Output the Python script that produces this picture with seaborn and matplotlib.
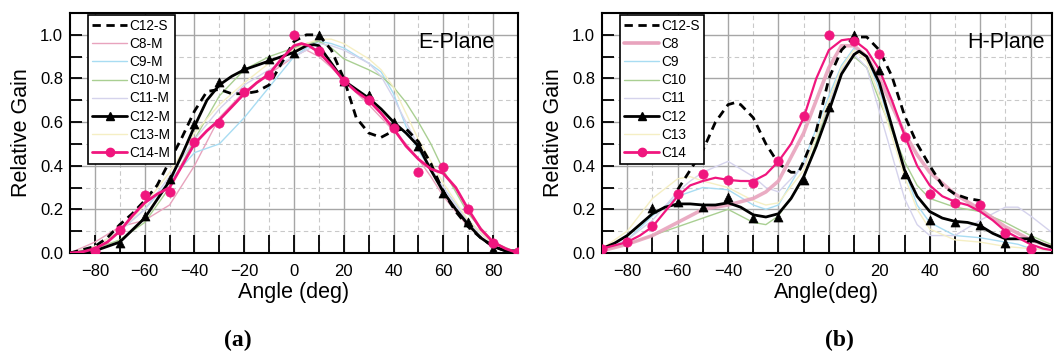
import matplotlib
matplotlib.use("Agg")
import matplotlib.pyplot as plt
from matplotlib.lines import Line2D
from matplotlib.ticker import MultipleLocator
import seaborn as sns

# ---------------- Panel (a) E-Plane ----------------
a_s_x = [-90,-80,-75,-70,-65,-60,-55,-50,-45,-40,-35,-30,-25,-20,-15,-10,-5,0,5,10,15,20,25,30,35,40,45,50,55,60,65,70,75,80,85,90]
a_s_y = [0.0,0.03,0.07,0.13,0.18,0.24,0.31,0.42,0.53,0.65,0.74,0.75,0.73,0.73,0.74,0.77,0.87,0.97,1.0,1.0,0.93,0.80,0.62,0.55,0.53,0.56,0.57,0.51,0.41,0.28,0.19,0.12,0.07,0.03,0.01,0.01]

a_c12_x = [-90,-80,-70,-60,-50,-45,-40,-35,-30,-25,-20,-15,-10,-5,0,5,8,10,15,20,25,30,35,40,45,50,55,60,65,70,75,80,85,90]
a_c12_y = [0.0,0.01,0.05,0.16,0.33,0.45,0.58,0.70,0.77,0.81,0.84,0.86,0.88,0.90,0.92,0.95,0.955,0.95,0.87,0.79,0.75,0.71,0.66,0.60,0.55,0.49,0.38,0.28,0.2,0.13,0.07,0.03,0.01,0.0]
a_c12_mx = [-80,-70,-60,-50,-40,-30,-20,-10,0,10,20,30,40,50,60,70,80]
a_c12_my = [0.01,0.045,0.17,0.34,0.59,0.785,0.85,0.89,0.915,1.0,0.79,0.725,0.60,0.49,0.275,0.14,0.02]

a_c14_x = [-90,-85,-80,-75,-70,-65,-60,-55,-50,-45,-40,-35,-30,-25,-20,-15,-10,-5,0,3,6,10,15,20,25,30,35,40,45,50,55,60,65,70,75,80,85,90]
a_c14_y = [0.0,0.005,0.02,0.05,0.1,0.17,0.23,0.27,0.30,0.40,0.50,0.56,0.61,0.67,0.73,0.78,0.82,0.89,0.95,0.96,0.95,0.92,0.86,0.79,0.74,0.70,0.64,0.57,0.49,0.43,0.385,0.365,0.30,0.20,0.11,0.05,0.02,0.0]
a_c14_mx = [-80,-70,-60,-50,-40,-30,-20,-10,0,10,20,30,40,50,60,70,80,90]
a_c14_my = [0.01,0.105,0.265,0.28,0.51,0.595,0.74,0.815,1.0,0.925,0.79,0.70,0.575,0.37,0.395,0.20,0.045,0.005]

a_thin_x = [-90,-80,-70,-60,-50,-40,-30,-20,-10,0,5,10,15,20,30,35,40,45,50,55,60,70,80,90]
a_c8_y  = [0.0,0.05,0.12,0.15,0.22,0.40,0.62,0.74,0.82,0.90,0.93,0.90,0.85,0.79,0.68,0.62,0.56,0.50,0.43,0.35,0.26,0.12,0.03,0.0]
a_c9_y  = [0.0,0.03,0.10,0.20,0.33,0.46,0.50,0.62,0.76,0.90,0.94,0.97,0.96,0.94,0.87,0.83,0.73,0.58,0.47,0.38,0.30,0.15,0.04,0.0]
a_c10_y = [0.0,0.02,0.06,0.14,0.30,0.52,0.72,0.84,0.90,0.94,0.96,0.97,0.94,0.89,0.84,0.81,0.76,0.69,0.60,0.50,0.38,0.18,0.05,0.0]
a_c11_y = [0.0,0.03,0.10,0.20,0.35,0.52,0.66,0.77,0.84,0.90,0.93,0.96,0.95,0.93,0.87,0.81,0.71,0.60,0.49,0.39,0.30,0.14,0.04,0.0]
a_c13_y = [0.0,0.03,0.10,0.22,0.37,0.55,0.68,0.78,0.87,0.93,0.96,0.98,0.98,0.96,0.89,0.84,0.76,0.64,0.52,0.42,0.32,0.15,0.04,0.0]

# ---------------- Panel (b) H-Plane ----------------
b_s_x = [-60,-55,-50,-45,-40,-37,-35,-30,-25,-20,-15,-12,-10,-5,0,5,10,15,20,25,30,35,40,45,50,55,60]
b_s_y = [0.29,0.38,0.47,0.60,0.68,0.69,0.68,0.62,0.50,0.41,0.37,0.37,0.42,0.56,0.80,0.93,0.99,0.99,0.93,0.81,0.63,0.50,0.40,0.31,0.27,0.25,0.24]

b_c12_x = [-90,-85,-80,-75,-70,-65,-60,-55,-50,-45,-40,-35,-30,-25,-20,-15,-10,-5,0,5,10,12,15,20,25,30,35,40,45,50,55,60,65,70,75,80,85,90]
b_c12_y = [0.02,0.045,0.08,0.13,0.18,0.21,0.225,0.225,0.22,0.22,0.23,0.21,0.175,0.165,0.18,0.25,0.35,0.49,0.65,0.82,0.91,0.925,0.90,0.78,0.58,0.38,0.26,0.19,0.16,0.145,0.14,0.125,0.09,0.065,0.065,0.065,0.04,0.02]
b_c12_mx = [-90,-70,-60,-50,-40,-30,-20,-10,0,10,20,30,40,50,60,70,80]
b_c12_my = [0.02,0.205,0.235,0.21,0.255,0.16,0.165,0.335,0.67,1.0,0.84,0.36,0.15,0.14,0.13,0.045,0.075]

b_c14_x = [-90,-80,-75,-70,-65,-60,-55,-50,-45,-40,-35,-30,-25,-20,-15,-10,-5,0,5,8,10,15,20,25,30,35,40,45,50,55,60,65,70,75,80,85,90]
b_c14_y = [0.02,0.05,0.08,0.12,0.19,0.26,0.31,0.33,0.345,0.335,0.33,0.33,0.36,0.42,0.50,0.62,0.80,0.93,0.975,0.98,0.975,0.93,0.84,0.70,0.54,0.40,0.31,0.26,0.235,0.22,0.19,0.15,0.10,0.07,0.04,0.02,0.01]
b_c14_mx = [-90,-80,-70,-60,-50,-40,-30,-20,-10,0,10,20,30,40,50,60,70,80]
b_c14_my = [0.02,0.05,0.125,0.27,0.36,0.335,0.32,0.42,0.63,1.0,0.97,0.91,0.53,0.27,0.23,0.22,0.09,0.02]

b_thin_x = [-90,-80,-70,-60,-55,-50,-40,-30,-25,-20,-10,0,5,10,15,20,30,35,40,50,60,70,75,80,90]
b_c8_y  = [0.01,0.04,0.08,0.14,0.17,0.20,0.22,0.25,0.28,0.33,0.55,0.85,0.95,0.95,0.90,0.80,0.55,0.45,0.37,0.27,0.20,0.12,0.09,0.06,0.02]
b_c9_y  = [0.01,0.06,0.17,0.26,0.28,0.30,0.29,0.22,0.20,0.22,0.42,0.72,0.86,0.94,0.90,0.75,0.38,0.22,0.14,0.08,0.07,0.05,0.04,0.02,0.01]
b_c10_y = [0.01,0.04,0.08,0.12,0.14,0.16,0.20,0.14,0.13,0.17,0.34,0.68,0.84,0.90,0.85,0.70,0.42,0.31,0.25,0.21,0.19,0.14,0.11,0.08,0.03]
b_c11_y = [0.01,0.06,0.15,0.28,0.33,0.37,0.42,0.35,0.30,0.28,0.40,0.68,0.84,0.91,0.85,0.65,0.25,0.13,0.08,0.08,0.15,0.21,0.21,0.17,0.08]
b_c13_y = [0.02,0.10,0.25,0.34,0.35,0.33,0.30,0.24,0.22,0.23,0.38,0.70,0.85,0.93,0.88,0.72,0.35,0.20,0.11,0.06,0.05,0.03,0.025,0.02,0.01]

x_ticks = [-80, -60, -40, -20, 0, 20, 40, 60, 80]
y_ticks = [0.0, 0.2, 0.4, 0.6, 0.8, 1.0]

COL_C8 = "#e8a3bd"
COL_C9 = "#a8dcf2"
COL_C10 = "#a9cf92"
COL_C11 = "#d5d3ec"
COL_C13 = "#f5efc4"
COL_C14 = "#f0167e"

sns.set_style("white")
plt.rcParams["font.family"] = ["Liberation Sans", "DejaVu Sans"]
plt.rcParams["axes.unicode_minus"] = True
plt.rcParams["text.color"] = "black"
plt.rcParams["axes.labelcolor"] = "black"
plt.rcParams["xtick.color"] = "black"
plt.rcParams["ytick.color"] = "black"

fig = plt.figure(figsize=(10.56, 3.52), dpi=100)
ax_a = fig.add_axes([70/1056, 99/352, 448/1056, 240/352])
ax_b = fig.add_axes([602/1056, 99/352, 450/1056, 240/352])


def line(ax, x, y, color, lw, ls="-", z=2, alpha=1.0):
    sns.lineplot(x=x, y=y, ax=ax, color=color, lw=lw, linestyle=ls,
                 estimator=None, sort=False, legend=False, zorder=z, alpha=alpha)


def pts(ax, x, y, color, marker, s, z=5):
    sns.scatterplot(x=x, y=y, ax=ax, color=color, marker=marker, s=s,
                    edgecolor=color, linewidth=0.5, legend=False, zorder=z)


def style_axes(ax, xmax):
    ax.set_xlim(-90, xmax)
    ax.set_ylim(0, 1.1)
    ax.set_xticks(x_ticks)
    ax.set_yticks(y_ticks)
    ax.set_yticklabels([f"{v:.1f}" for v in y_ticks])
    ax.xaxis.set_minor_locator(MultipleLocator(10))
    ax.yaxis.set_minor_locator(MultipleLocator(0.1))
    ax.grid(True, which="major", color="#a6a6a6", lw=1.0, ls="-", zorder=0)
    ax.grid(True, which="minor", color="#c9c9c9", lw=0.8, ls=(0, (4, 3)), zorder=0)
    ax.set_axisbelow(True)
    ax.tick_params(axis="x", which="both", direction="in", length=13, width=1.3,
                   bottom=True, top=False, labelsize=12, pad=8, colors="black")
    ax.tick_params(axis="y", which="both", direction="in", length=8.5, width=1.3,
                   left=True, right=False, labelsize=12, pad=5, colors="black")
    for sp in ax.spines.values():
        sp.set_color("black")
        sp.set_linewidth(1.5)
    ax.set_ylabel("Relative Gain", fontsize=15.5, labelpad=6, color="black")


# ---- panel a ----
line(ax_a, a_thin_x, a_c8_y, COL_C8, 1.0)
line(ax_a, a_thin_x, a_c9_y, COL_C9, 1.0)
line(ax_a, a_thin_x, a_c10_y, COL_C10, 1.0)
line(ax_a, a_thin_x, a_c11_y, COL_C11, 1.0)
line(ax_a, a_thin_x, a_c13_y, COL_C13, 1.0)
line(ax_a, a_s_x, a_s_y, "black", 2.0, ls=(0, (3, 2)), z=3)
line(ax_a, a_c12_x, a_c12_y, "black", 2.0, z=4)
pts(ax_a, a_c12_mx, a_c12_my, "black", "^", 42)
line(ax_a, a_c14_x, a_c14_y, COL_C14, 2.0, z=4)
pts(ax_a, a_c14_mx, a_c14_my, COL_C14, "o", 45)
style_axes(ax_a, 90)
ax_a.set_xlabel("Angle (deg)", fontsize=15.5, labelpad=2, color="black")
ax_a.text(0.948, 0.875, "E-Plane", transform=ax_a.transAxes, ha="right", va="center",
          fontsize=15.5, color="black")

# ---- panel b ----
line(ax_b, b_thin_x, b_c9_y, COL_C9, 1.0)
line(ax_b, b_thin_x, b_c10_y, COL_C10, 1.0)
line(ax_b, b_thin_x, b_c11_y, COL_C11, 1.0)
line(ax_b, b_thin_x, b_c13_y, COL_C13, 1.0)
line(ax_b, b_thin_x, b_c8_y, COL_C8, 2.6, alpha=0.9)
line(ax_b, b_s_x, b_s_y, "black", 2.0, ls=(0, (3, 2)), z=3)
line(ax_b, b_c12_x, b_c12_y, "black", 2.0, z=4)
pts(ax_b, b_c12_mx, b_c12_my, "black", "^", 42)
line(ax_b, b_c14_x, b_c14_y, COL_C14, 1.6, z=4)
pts(ax_b, b_c14_mx, b_c14_my, COL_C14, "o", 45)
style_axes(ax_b, 88.5)
ax_b.set_xlabel("Angle(deg)", fontsize=15.5, labelpad=2, color="black")
ax_b.text(0.983, 0.875, "H-Plane", transform=ax_b.transAxes, ha="right", va="center",
          fontsize=15.5, color="black")


def make_legend(ax, labels, c8_lw):
    specs = [
        dict(color="black", lw=2.0, ls=(0, (3, 2))),
        dict(color=COL_C8, lw=c8_lw),
        dict(color=COL_C9, lw=1.0),
        dict(color=COL_C10, lw=1.0),
        dict(color=COL_C11, lw=1.0),
        dict(color="black", lw=2.0, marker="^", markersize=6),
        dict(color=COL_C13, lw=1.0),
        dict(color=COL_C14, lw=2.0, marker="o", markersize=6),
    ]
    handles = [Line2D([0], [0], **sp) for sp in specs]
    width = ax.get_position().width * 1056
    leg = ax.legend(handles, labels, loc="upper left",
                    bbox_to_anchor=(18/width, 1 - 2/240), borderaxespad=0,
                    fontsize=9.8, frameon=True, fancybox=False, framealpha=1,
                    edgecolor="black", handlelength=2.6, handletextpad=0.15,
                    labelspacing=0.3, borderpad=0.3, markerscale=1.0)
    leg.get_frame().set_linewidth(1.2)
    for t in leg.get_texts():
        t.set_color("black")
    leg.set_zorder(10)


make_legend(ax_a, ["C12-S", "C8-M", "C9-M", "C10-M", "C11-M", "C12-M", "C13-M", "C14-M"], 1.0)
make_legend(ax_b, ["C12-S", "C8", "C9", "C10", "C11", "C12", "C13", "C14"], 2.6)

fig.text(238/1056, 1 - 340/352, "(a)", ha="center", va="center", fontsize=17,
         fontweight="bold", family=["Liberation Serif", "DejaVu Serif"], color="black")
fig.text(839/1056, 1 - 340/352, "(b)", ha="center", va="center", fontsize=17,
         fontweight="bold", family=["Liberation Serif", "DejaVu Serif"], color="black")

fig.savefig("out.png", dpi=100)
